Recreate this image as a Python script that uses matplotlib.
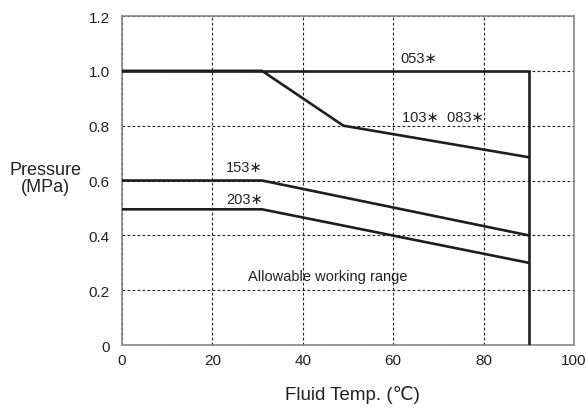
import matplotlib.pyplot as plt

plt.rcParams['font.family'] = ['Liberation Sans', 'DejaVu Sans']

# rated pressure curves (temp in C, pressure in MPa)
t_053 = [0, 90, 90]
p_053 = [1.0, 1.0, 0.0]

t_103 = [0, 31, 49, 90]
p_103 = [1.0, 1.0, 0.8, 0.685]

t_153 = [0, 31, 90]
p_153 = [0.6, 0.6, 0.40]

t_203 = [0, 31, 90]
p_203 = [0.495, 0.495, 0.30]

labels = ['053∗', '103∗  083∗', '153∗', '203∗']
label_pos = [(61.7, 1.046), (62, 0.83), (23, 0.648), (23, 0.534)]

fig = plt.figure(figsize=(5.88, 4.10), dpi=100)
ax = fig.add_axes([0.2075, 0.156, 0.7685, 0.8025])

lc = '#1e1e1e'
for t, p in [(t_053, p_053), (t_103, p_103), (t_153, p_153), (t_203, p_203)]:
    ax.plot(t, p, color=lc, lw=1.9, solid_joinstyle='miter', zorder=3)

for lab, (x, y) in zip(labels, label_pos):
    ax.text(x, y, lab, fontsize=10.5, color='#222222', va='center', ha='left')

ax.text(27.9, 0.25, 'Allowable working range', fontsize=10.5, color='#222222', va='center', ha='left')

ax.set_xlim(0, 100)
ax.set_ylim(0, 1.2)
ax.set_xticks([0, 20, 40, 60, 80, 100])
ax.set_xticklabels(['0', '20', '40', '60', '80', '100'])
ax.set_yticks([0, 0.2, 0.4, 0.6, 0.8, 1.0, 1.2])
ax.set_yticklabels(['0', '0.2', '0.4', '0.6', '0.8', '1.0', '1.2'])
ax.tick_params(length=0, labelsize=11, colors='#222222')
ax.tick_params(axis='y', pad=9)
ax.tick_params(axis='x', pad=6)
ax.grid(True, color='#222222', lw=0.8, linestyle=(0, (2.5, 2)))

for s in ax.spines.values():
    s.set_color('#888888')
    s.set_linewidth(1.2)

fig.text(0.077, 0.563, 'Pressure\n(MPa)', fontsize=13, ha='center', va='center',
         color='#222222', linespacing=1.0)
fig.text(0.599, 0.037, 'Fluid Temp. (℃)', fontsize=13.5, ha='center', va='center', color='#222222')

fig.savefig('out.png', dpi=100)
